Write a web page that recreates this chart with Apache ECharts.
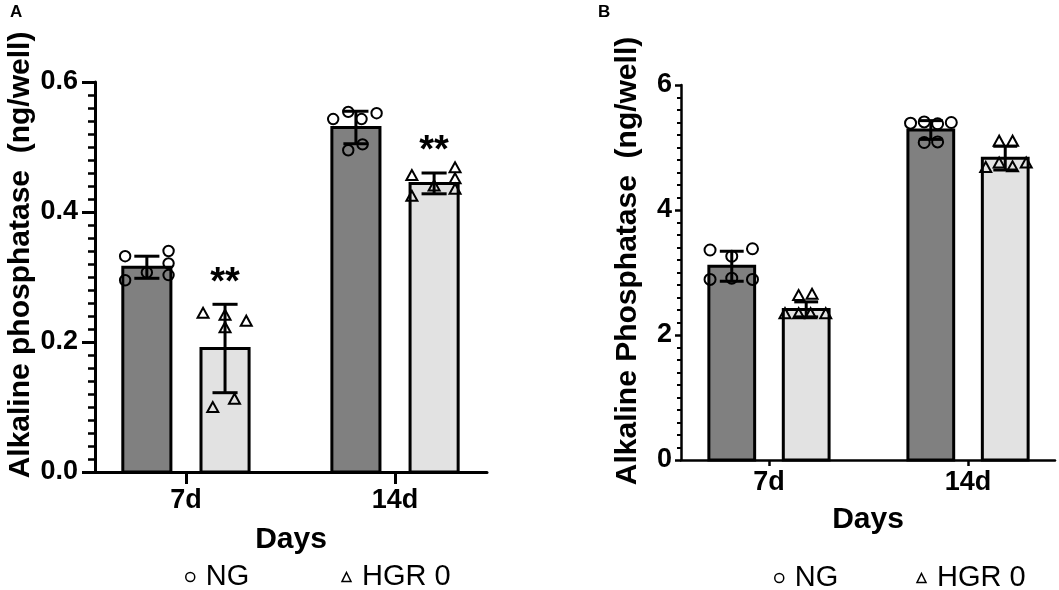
<!DOCTYPE html>
<html><head><meta charset="utf-8">
<script src="https://cdn.jsdelivr.net/npm/echarts@6/dist/echarts.min.js"></script>
<style>html,body{margin:0;padding:0;background:#fff}#c{width:1059px;height:590px}</style>
</head><body><div id="c"></div>
<script>
// ---------- data ----------
const categories = ['7d', '14d'];
const groupNames = ['NG', 'HGR 0'];

// Panel A
const ticksA = [0, 0.2, 0.4, 0.6];
const meanA_NG = [0.315, 0.530];
const sdA_NG = [0.017, 0.025];
const meanA_HGR = [0.190, 0.444];
const sdA_HGR = [0.068, 0.016];
const ptsA_NG = [[0.332, 0.340, 0.321, 0.307, 0.295, 0.303], [0.543, 0.554, 0.543, 0.552, 0.495, 0.504]];
const ptsA_HGR = [[0.243, 0.240, 0.221, 0.231, 0.098, 0.111], [0.455, 0.467, 0.450, 0.439, 0.423, 0.434]];
const sigA_NG = ['', ''];
const sigA_HGR = ['**', '**'];

// Panel B
const ticksB = [0, 2, 4, 6];
const meanB_NG = [3.10, 5.28];
const sdB_NG = [0.24, 0.15];
const meanB_HGR = [2.41, 4.83];
const sdB_HGR = [0.12, 0.19];
const ptsB_NG = [[3.36, 3.38, 3.26, 2.89, 2.91, 2.89], [5.39, 5.41, 5.38, 5.40, 5.08, 5.09]];
const ptsB_HGR = [[2.62, 2.64, 2.33, 2.33, 2.33, 2.33], [5.09, 5.09, 4.67, 4.74, 4.68, 4.74]];
const sigB_NG = ['', ''];
const sigB_HGR = ['', ''];

// ---------- layout (jitter as fraction of half bar width) ----------
const jitA_NG = [[-0.85, 0.85, 0.85, 0, -0.85, 0.85], [-0.89, -0.30, 0.22, 0.81, -0.30, 0.26]];
const jitA_HGR = [[-0.86, 0, 0, 0.83, -0.48, 0.37], [-0.87, 0.82, 0.82, 0, -0.87, 0.82]];
const jitB_NG = [[-0.89, 0.85, 0, -0.89, 0, 0.85], [-0.83, -0.27, 0.28, 0.84, -0.27, 0.28]];
const jitB_HGR = [[-0.31, 0.24, -0.87, -0.31, 0.18, 0.80], [-0.25, 0.30, -0.80, -0.25, 0.30, 0.86]];

const FONT = 'Liberation Sans, Arial, Helvetica, sans-serif';
const FILLS = ['#808080', '#e2e2e2'];
const SYMBOLS = ['circle', 'triangle'];
const OFFSET = [-0.187, 0.187];   // in axis units
const BAR_W = 0.23;               // in axis units
const CAP_W = 0.12;

function makeRender(gi, pts, jit, sig, sty) {
  return function (params, api) {
    const ci = params.dataIndex;
    const x = api.value(0), m = api.value(1), sd = api.value(2);
    const unit = api.size([1, 0])[0];
    const base = api.coord([x, 0]);
    const cx = base[0] + OFFSET[gi] * unit;
    const bw = BAR_W * unit;
    const yTop = api.coord([x, m])[1];
    const yHi = api.coord([x, m + sd])[1];
    const yLo = api.coord([x, m - sd])[1];
    const cap = CAP_W * unit / 2;
    const children = [];
    children.push({
      type: 'rect',
      shape: { x: cx - bw / 2, y: yTop, width: bw, height: base[1] - yTop },
      style: { fill: FILLS[gi], stroke: '#000', lineWidth: sty.barLine }
    });
    const half = bw / 2 + sty.barLine / 2;
    pts[ci].forEach(function (v, k) {
      const px = cx + jit[ci][k] * half;
      const py = api.coord([x, v])[1];
      if (SYMBOLS[gi] === 'circle') {
        children.push({ type: 'circle', shape: { cx: px, cy: py, r: sty.r },
          style: { fill: 'none', stroke: '#000', lineWidth: sty.ptLine } });
      } else {
        const w = sty.tw, h = sty.th;
        children.push({ type: 'polygon', shape: { points: [[px, py - h * 0.62], [px - w / 2, py + h * 0.38], [px + w / 2, py + h * 0.38]] },
          style: { fill: 'none', stroke: '#000', lineWidth: sty.ptLine, lineJoin: 'miter' } });
      }
    });
    const es = { stroke: '#000', lineWidth: sty.errLine };
    children.push({ type: 'line', shape: { x1: cx, y1: yHi, x2: cx, y2: yLo }, style: es });
    children.push({ type: 'line', shape: { x1: cx - cap, y1: yHi, x2: cx + cap, y2: yHi }, style: es });
    children.push({ type: 'line', shape: { x1: cx - cap, y1: yLo, x2: cx + cap, y2: yLo }, style: es });
    if (sig[ci]) {
      children.push({ type: 'text', x: cx, y: yHi - 21,
        style: { text: sig[ci], font: 'bold 38px ' + FONT, fill: '#000', align: 'center', verticalAlign: 'middle' } });
    }
    return { type: 'group', children: children };
  };
}

function seriesData(means, sds) {
  return categories.map(function (c, i) { return [i + 1, means[i], sds[i]]; });
}

const styA = { barLine: 3, errLine: 3, ptLine: 2, r: 5.2, tw: 11, th: 10 };
const styB = { barLine: 3, errLine: 3, ptLine: 2, r: 5.5, tw: 11, th: 10 };

function mkSeries(name, gi, grid, means, sds, pts, jit, sig, sty) {
  return {
    type: 'custom', name: name, xAxisIndex: grid, yAxisIndex: grid,
    renderItem: makeRender(gi, pts, jit, sig, sty),
    data: seriesData(means, sds), clip: false, silent: true,
    encode: { x: 0, y: 1 }
  };
}

function xAxisCfg(grid, min, max, tickLen, lw, labMargin, nameGap) {
  return {
    type: 'value', gridIndex: grid, min: min, max: max,
    axisLine: { show: true, lineStyle: { color: '#000', width: lw } },
    axisTick: { show: true, customValues: [1, 2], length: tickLen, lineStyle: { color: '#000', width: lw } },
    axisLabel: { customValues: [1, 2], formatter: function (v) { return categories[Math.round(v) - 1]; },
      color: '#000', fontFamily: FONT, fontWeight: 'bold', fontSize: 27, margin: labMargin },
    splitLine: { show: false },
    name: 'Days', nameLocation: 'middle', nameGap: nameGap,
    nameTextStyle: { color: '#000', fontFamily: FONT, fontWeight: 'bold', fontSize: 30 }
  };
}

function yAxisCfg(grid, ticks, dec, tickLen, minorLen, lw, labMargin) {
  return {
    type: 'value', gridIndex: grid, min: ticks[0], max: ticks[ticks.length - 1],
    interval: ticks[1] - ticks[0],
    axisLine: { show: true, lineStyle: { color: '#000', width: lw } },
    axisTick: { show: true, length: tickLen, lineStyle: { color: '#000', width: lw } },
    minorTick: { show: true, splitNumber: 10, length: minorLen, lineStyle: { color: '#000', width: lw * 0.85 } },
    axisLabel: { formatter: function (v) { return v.toFixed(dec); }, color: '#000', fontFamily: FONT,
      fontWeight: 'bold', fontSize: 27, margin: labMargin },
    splitLine: { show: false }, minorSplitLine: { show: false }
  };
}

const legendCommon = {
  orient: 'horizontal', itemWidth: 9, itemHeight: 9,
  itemStyle: { color: 'rgba(0,0,0,0)', borderColor: '#000', borderWidth: 1.5 },
  textStyle: { color: '#000', fontFamily: FONT, fontSize: 29, padding: [0, 0, 0, 6], lineHeight: 30 },
  selectedMode: false,
  data: [{ name: 'NG', icon: 'circle' }, { name: 'HGR 0', icon: 'triangle' }]
};

const option = {
  animation: false,
  backgroundColor: '#fff',
  grid: [
    { left: 95, top: 82, width: 392, height: 390 },
    { left: 681, top: 85, width: 374, height: 375 }
  ],
  xAxis: [
    xAxisCfg(0, 0.565, 2.44, 12, 3, 15, 53),
    xAxisCfg(1, 0.558, 2.437, 6, 2.5, 9, 45)
  ],
  yAxis: [
    yAxisCfg(0, ticksA, 1, 13, 7, 3, 17),
    yAxisCfg(1, ticksB, 0, 6, 4, 2.5, 9)
  ],
  legend: [
    Object.assign({}, legendCommon, { left: 180, top: 557, itemGap: 92 }),
    Object.assign({}, legendCommon, { left: 769, top: 558, itemGap: 78 })
  ],
  graphic: [
    { type: 'text', left: 10, top: 4, style: { text: 'A', font: 'bold 17px ' + FONT, fill: '#000' } },
    { type: 'text', left: 598, top: 4, style: { text: 'B', font: 'bold 17px ' + FONT, fill: '#000' } },
    { type: 'text', x: 21, y: 255, rotation: Math.PI / 2,
      style: { text: 'Alkaline phosphatase  (ng/well)', font: 'bold 30px ' + FONT, fill: '#000', align: 'center', verticalAlign: 'middle' } },
    { type: 'text', x: 628, y: 261, rotation: Math.PI / 2,
      style: { text: 'Alkaline Phosphatase  (ng/well)', font: 'bold 30px ' + FONT, fill: '#000', align: 'center', verticalAlign: 'middle' } }
  ],
  series: [
    mkSeries(groupNames[0], 0, 0, meanA_NG, sdA_NG, ptsA_NG, jitA_NG, sigA_NG, styA),
    mkSeries(groupNames[1], 1, 0, meanA_HGR, sdA_HGR, ptsA_HGR, jitA_HGR, sigA_HGR, styA),
    mkSeries(groupNames[0], 0, 1, meanB_NG, sdB_NG, ptsB_NG, jitB_NG, sigB_NG, styB),
    mkSeries(groupNames[1], 1, 1, meanB_HGR, sdB_HGR, ptsB_HGR, jitB_HGR, sigB_HGR, styB)
  ]
};

const chart = echarts.init(document.getElementById('c'), null, { renderer: 'canvas' });
chart.setOption(option);
</script>
</body></html>
